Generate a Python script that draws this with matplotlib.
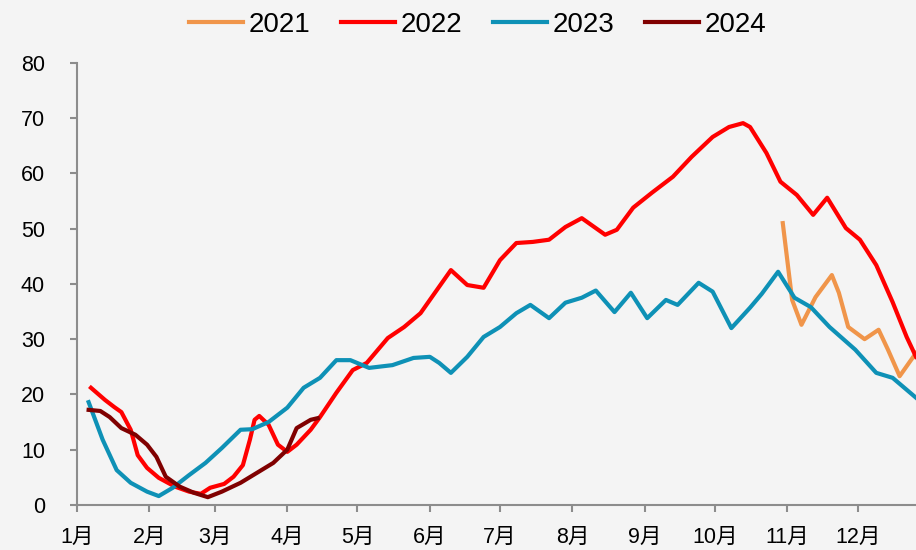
import matplotlib
matplotlib.use("Agg")
import matplotlib.pyplot as plt
from matplotlib import font_manager

# day of year (0 = 1 Jan) and value for each season
days_2021 = [302, 306, 310, 316, 323, 326, 330, 337, 343, 347, 352, 359]
vals_2021 = [51.0, 37.1, 32.6, 37.6, 41.6, 38.4, 32.2, 30.0, 31.7, 28.1, 23.3, 27.5]

days_2022 = [6, 12, 16, 19, 23, 26, 30, 35, 42, 48, 53, 57, 63, 67, 71, 74, 76, 78, 82, 86, 90,
             94, 100, 104, 111, 118, 124, 133, 140, 147, 154, 160, 167, 174, 181, 188, 195, 202,
             209, 216, 226, 231, 238, 246, 255, 263, 272, 279, 285, 288, 295, 301, 308, 315, 321,
             329, 335, 342, 349, 355, 359]
vals_2022 = [21.2, 19.0, 17.7, 16.8, 13.6, 9.0, 6.7, 4.9, 3.3, 2.4, 2.0, 3.1, 3.8, 5.1, 7.2, 11.8,
             15.4, 16.1, 14.5, 10.9, 9.6, 10.9, 13.6, 15.9, 20.3, 24.4, 25.7, 30.2, 32.2, 34.7,
             38.9, 42.5, 39.8, 39.3, 44.3, 47.4, 47.6, 48.0, 50.3, 51.9, 48.9, 49.8, 53.8, 56.5,
             59.4, 63.0, 66.6, 68.4, 69.1, 68.4, 63.7, 58.5, 56.1, 52.5, 55.6, 50.1, 48.0, 43.4,
             36.7, 30.4, 26.8]

days_2023 = [5, 11, 17, 23, 30, 35, 41, 48, 55, 62, 70, 75, 82, 90, 97, 104, 111, 117, 125, 135,
             144, 151, 155, 160, 167, 174, 181, 188, 194, 202, 209, 216, 222, 230, 237, 244, 252,
             257, 266, 272, 280, 288, 293, 300, 307, 314, 322, 333, 342, 349, 359]
vals_2023 = [18.6, 11.8, 6.3, 4.0, 2.4, 1.6, 3.1, 5.4, 7.6, 10.3, 13.6, 13.7, 15.0, 17.6, 21.2,
             23.0, 26.2, 26.2, 24.8, 25.3, 26.6, 26.8, 25.7, 23.9, 26.8, 30.4, 32.2, 34.7, 36.2,
             33.8, 36.6, 37.5, 38.8, 34.9, 38.4, 33.8, 37.1, 36.2, 40.2, 38.6, 32.0, 35.7, 38.2,
             42.2, 37.5, 35.8, 32.2, 28.1, 23.9, 23.0, 19.4]

days_2024 = [5, 10, 14, 19, 25, 30, 34, 38, 44, 50, 56, 62, 70, 77, 84, 90, 94, 100, 103]
vals_2024 = [17.2, 17.0, 15.9, 13.9, 12.7, 10.9, 8.7, 5.1, 3.3, 2.2, 1.4, 2.4, 4.0, 5.8, 7.6,
             10.0, 13.9, 15.4, 15.7]

month_starts = [0, 31, 59, 90, 120, 151, 181, 212, 243, 273, 304, 334]
month_labels = ["1月", "2月", "3月", "4月", "5月", "6月", "7月", "8月", "9月", "10月", "11月", "12月"]

bg = "#f4f4f4"
axis_gray = "#8c8c8c"

names = {f.name for f in font_manager.fontManager.ttflist}
if "Liberation Sans Narrow" in names:
    legend_font = {"family": "Liberation Sans Narrow", "size": 23}
else:
    legend_font = {"family": "Liberation Sans", "size": 20}

fig = plt.figure(figsize=(9.16, 5.5), dpi=100, facecolor=bg)
ax = fig.add_axes([0.084, 0.082, 0.916, 0.8036], facecolor=bg)

lw = 3.0
ax.plot(days_2021, vals_2021, color="#f0954a", lw=lw, label="2021", solid_joinstyle="round")
ax.plot(days_2022, vals_2022, color="#ff0000", lw=lw, label="2022", solid_joinstyle="round")
ax.plot(days_2023, vals_2023, color="#0e91b6", lw=lw, label="2023", solid_joinstyle="round")
ax.plot(days_2024, vals_2024, color="#800000", lw=lw, label="2024", solid_joinstyle="round")

ax.set_xlim(0, 359)
ax.set_ylim(0, 80)
ax.set_yticks(range(0, 81, 10))
ax.set_xticks(month_starts)
ax.set_xticklabels(month_labels, family=["Liberation Sans", "Noto Sans CJK SC"], fontsize=15.5)
for t in ax.get_yticklabels():
    t.set_family("Liberation Sans")
    t.set_fontsize(15.5)

for side in ["top", "right"]:
    ax.spines[side].set_visible(False)
for side in ["left", "bottom"]:
    ax.spines[side].set_color(axis_gray)
    ax.spines[side].set_linewidth(1.5)
ax.tick_params(axis="y", direction="out", length=5, width=1.5, color=axis_gray, pad=18)
ax.tick_params(axis="x", direction="out", length=5, width=1.5, color=axis_gray, pad=11)

fig.legend(loc="center", bbox_to_anchor=(478 / 916, 1 - 25 / 550), ncol=4, frameon=False,
           prop=legend_font, handlelength=1.95, handletextpad=0.2, columnspacing=1.1)

fig.savefig("out.png", dpi=100, facecolor=bg)
